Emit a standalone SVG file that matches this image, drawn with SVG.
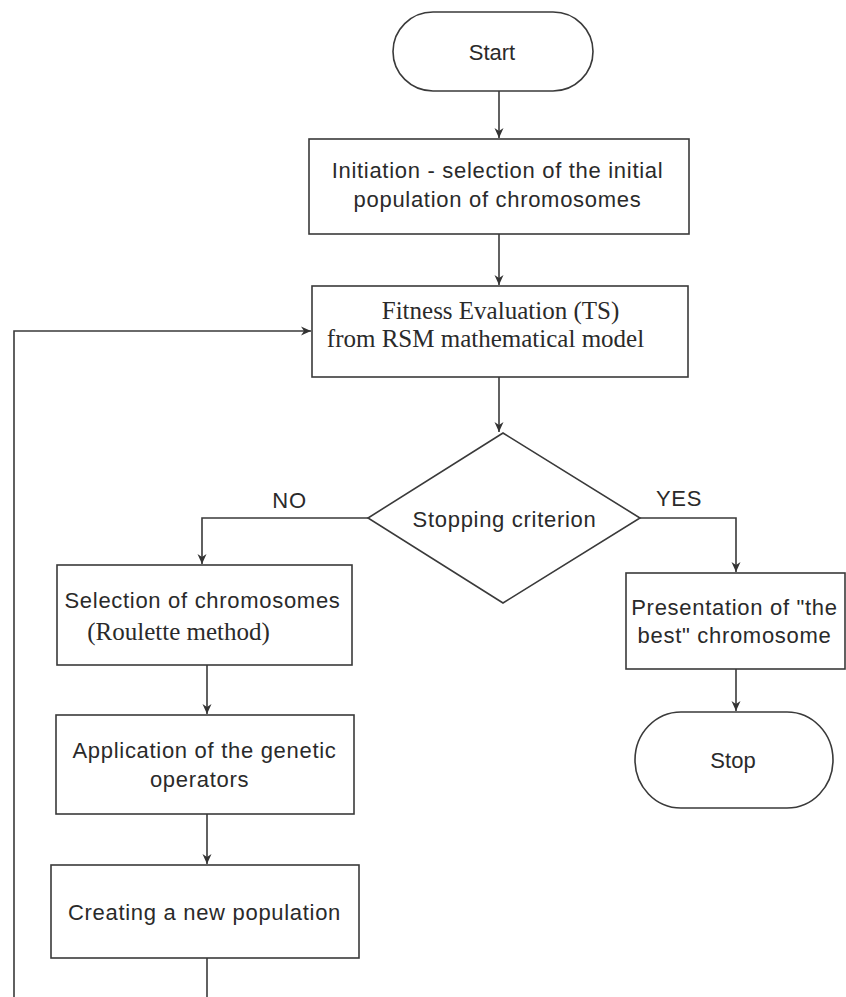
<svg xmlns="http://www.w3.org/2000/svg" width="846" height="997" viewBox="0 0 846 997">
<defs>
<marker id="arr" markerUnits="userSpaceOnUse" markerWidth="12" markerHeight="12" viewBox="0 0 12 12" refX="11" refY="6" orient="auto">
<path d="M1,1.5 L11,6 L1,10.5 L4,6 z" fill="#333"/>
</marker>
<style>
.shape{fill:#fff;stroke:#3a3a3a;stroke-width:1.6}
.conn{fill:none;stroke:#3a3a3a;stroke-width:1.6}
.sans{font-family:"Liberation Sans",Arial,sans-serif;font-size:22px;fill:#2a2a2a;letter-spacing:0.7px;text-anchor:middle}
.serif{font-family:"Liberation Serif","Times New Roman",serif;font-size:25px;fill:#2a2a2a;text-anchor:middle}
</style>
</defs>
<rect width="846" height="997" fill="#fff"/>
<g id="connectors">
<path class="conn" d="M499,91 V138" marker-end="url(#arr)"/>
<path class="conn" d="M499,234 V285" marker-end="url(#arr)"/>
<path class="conn" d="M499,377 V432" marker-end="url(#arr)"/>
<path class="conn" d="M368,518 H202 V564" marker-end="url(#arr)"/>
<path class="conn" d="M640,518 H736 V572" marker-end="url(#arr)"/>
<path class="conn" d="M207,665 V714" marker-end="url(#arr)"/>
<path class="conn" d="M207,814 V864" marker-end="url(#arr)"/>
<path class="conn" d="M207,958 V997"/>
<path class="conn" d="M14,997 V331 H311" marker-end="url(#arr)"/>
<path class="conn" d="M736,669 V711" marker-end="url(#arr)"/>
<text class="sans" x="289.5" y="508">NO</text>
<text class="sans" x="679" y="506">YES</text>
</g>
<g id="start">
<rect class="shape" x="393" y="12" width="200" height="79" rx="40" ry="39.5"/>
<text class="sans" x="492" y="60" style="letter-spacing:0">Start</text>
</g>
<g id="initiation">
<rect class="shape" x="309" y="139" width="380" height="95"/>
<text class="sans" x="497.5" y="178">Initiation - selection of the initial</text>
<text class="sans" x="497.5" y="207">population of chromosomes</text>
</g>
<g id="fitness">
<rect class="shape" x="312" y="286" width="376" height="91"/>
<text class="serif" x="500.5" y="319">Fitness Evaluation (TS)</text>
<text class="serif" x="485.5" y="347">from RSM mathematical model</text>
</g>
<g id="stopping">
<polygon class="shape" points="503,433 640,518 503,603 368,518"/>
<text class="sans" x="504.5" y="527">Stopping criterion</text>
</g>
<g id="selection">
<rect class="shape" x="57" y="565" width="295" height="100"/>
<text class="sans" x="202.5" y="608">Selection of chromosomes</text>
<text class="serif" x="178.5" y="640">(Roulette method)</text>
</g>
<g id="application">
<rect class="shape" x="56" y="715" width="298" height="99"/>
<text class="sans" x="204.5" y="758">Application of the genetic</text>
<text class="sans" x="199.5" y="787">operators</text>
</g>
<g id="creating">
<rect class="shape" x="51" y="865" width="308" height="93"/>
<text class="sans" x="204.5" y="920">Creating a new population</text>
</g>
<g id="presentation">
<rect class="shape" x="626" y="573" width="219" height="96"/>
<text class="sans" x="734.5" y="615">Presentation of "the</text>
<text class="sans" x="734.5" y="643">best" chromosome</text>
</g>
<g id="stop">
<rect class="shape" x="635" y="712" width="198" height="96" rx="46" ry="48"/>
<text class="sans" x="733" y="768" style="letter-spacing:0">Stop</text>
</g>
</svg>
